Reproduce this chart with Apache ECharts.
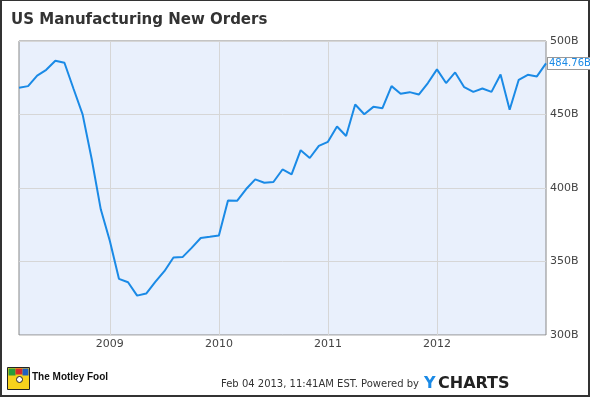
<!DOCTYPE html>
<html>
<head>
<meta charset="utf-8">
<script src="https://cdn.jsdelivr.net/npm/echarts@6/dist/echarts.min.js"></script>
<style>
  html, body { margin: 0; padding: 0; background: #fff; }
  #chart { width: 590px; height: 397px; }
</style>
</head>
<body>
<div id="chart"></div>
<script>
// ─── Data ──────────────────────────────────────────
// month-end dates, Feb 2008 .. Dec 2012
const months = [];
for (let y = 2008; y <= 2012; y++) {
  for (let m = 1; m <= 12; m++) {
    if (y === 2008 && m < 2) continue;
    months.push(y + '-' + String(m).padStart(2, '0'));
  }
}

// new orders, billions USD
const newOrders = [
  468.2, 469.3, 476.5, 480.4, 486.6, 485.2, 467.5, 450.1, 419.7, 385.5, 364.0,
  338.2, 335.9, 326.8, 328.2, 336.1, 343.4, 352.7, 353.0, 359.3, 366.0, 366.8, 367.7,
  391.5, 391.3, 399.3, 405.9, 403.6, 404.1, 412.6, 409.3, 425.7, 420.4, 428.6, 431.4,
  441.8, 435.4, 456.8, 450.2, 455.2, 454.3, 469.3, 464.1, 465.2, 463.6, 471.4, 480.7,
  471.4, 478.6, 468.6, 465.4, 467.7, 465.4, 477.2, 453.2, 473.6, 477.0, 475.9, 484.76
];

const yTicks = [300, 350, 400, 450, 500];
const yearLabels = ['2009', '2010', '2011', '2012'];

// year boundaries fall on the December month-end points
const isYearEdge = (idx) => months[idx].endsWith('-12') && yearLabels.includes(String(+months[idx].slice(0, 4) + 1));

const FONT = 'DejaVu Sans';
const LINE = '#1a8ae6';

const chart = echarts.init(document.getElementById('chart'));

chart.setOption({
  animation: false,
  title: {
    text: 'US Manufacturing New Orders',
    left: 11,
    top: 13,
    padding: 0,
    textStyle: { fontFamily: FONT, fontSize: 15, fontWeight: 'bold', color: '#333' }
  },
  grid: {
    left: 19, right: 44, top: 41, bottom: 62,
    show: true,
    backgroundColor: '#e9f0fc',
    borderColor: '#888',
    borderWidth: 1
  },
  xAxis: {
    type: 'category',
    data: months,
    boundaryGap: false,
    axisLine: { show: false },
    axisTick: { show: false },
    axisLabel: {
      interval: (idx) => isYearEdge(idx),
      formatter: (v) => String(+v.slice(0, 4) + 1),
      fontFamily: FONT, fontSize: 11, color: '#444', margin: 4
    },
    splitLine: {
      show: true,
      interval: (idx) => isYearEdge(idx),
      lineStyle: { color: '#d6d6d6', width: 1 }
    }
  },
  yAxis: {
    type: 'value',
    position: 'right',
    min: yTicks[0],
    max: yTicks[yTicks.length - 1],
    interval: 50,
    axisLine: { show: false },
    axisTick: { show: false },
    axisLabel: {
      formatter: (v) => v + 'B',
      fontFamily: FONT, fontSize: 11, color: '#444', margin: 4
    },
    splitLine: { lineStyle: { color: '#d6d6d6', width: 1 } }
  },
  series: [{
    type: 'line',
    data: newOrders,
    symbol: 'none',
    lineStyle: { color: LINE, width: 2 },
    endLabel: {
      show: true,
      formatter: (p) => p.value.toFixed(2) + 'B',
      fontFamily: FONT, fontSize: 10, color: LINE,
      backgroundColor: '#fff',
      borderColor: '#999',
      borderWidth: 1,
      padding: [1, 1, 0, 1],
      distance: 2
    }
  }],
  graphic: [
    // outer frame
    { type: 'rect', silent: true, shape: { x: 0, y: -1, width: 590, height: 398 },
      style: { fill: 'none', stroke: '#333', lineWidth: 4 } },
    // logo badge
    { type: 'group', left: 7, top: 367, children: [
      { type: 'rect', shape: { x: 0, y: 0, width: 22, height: 22 }, style: { fill: '#f7d21c', stroke: '#222', lineWidth: 1 } },
      { type: 'rect', shape: { x: 1, y: 1, width: 7, height: 7 }, style: { fill: '#2a9d3a' } },
      { type: 'rect', shape: { x: 8, y: 1, width: 7, height: 6 }, style: { fill: '#d62b2b' } },
      { type: 'rect', shape: { x: 15, y: 1, width: 6, height: 7 }, style: { fill: '#2060c0' } },
      { type: 'circle', shape: { cx: 12, cy: 12, r: 3 }, style: { fill: '#fff', stroke: '#222', lineWidth: 1 } }
    ] },
    { type: 'text', left: 32, top: 372,
      style: { text: 'The Motley Fool', font: 'bold 10px "Liberation Sans", sans-serif', fill: '#111' } },
    { type: 'text', left: 221, top: 379,
      style: { text: 'Feb 04 2013, 11:41AM EST. Powered by', font: '10px "DejaVu Sans"', fill: '#333' } },
    { type: 'text', left: 424, top: 376,
      style: { text: 'Y', font: 'bold 16px "DejaVu Sans"', fill: '#1a8ae6' } },
    { type: 'text', left: 438, top: 376,
      style: { text: 'CHARTS', font: 'bold 16px "DejaVu Sans"', fill: '#222' } }
  ]
});
</script>
</body>
</html>
